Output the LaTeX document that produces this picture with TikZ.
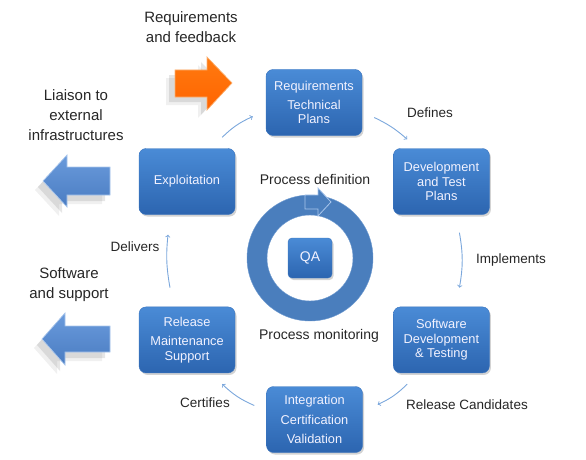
\documentclass[tikz,border=0pt]{standalone}
\usepackage{fontspec}
\setmainfont{Liberation Sans}
\usetikzlibrary{positioning,shadows}
\definecolor{BoxTop}{HTML}{4A8BD6}
\definecolor{BoxBottom}{HTML}{2C65B0}
\definecolor{BoxEdge}{HTML}{3A74BE}
\definecolor{RingBlue}{HTML}{4A7EBD}
\definecolor{RingEdge}{HTML}{6E9AD0}
\definecolor{ArrowTop}{HTML}{6A9BDC}
\definecolor{ArrowBottom}{HTML}{4A7CC2}
\definecolor{ArrowEdge}{HTML}{A9C6EC}
\definecolor{OrangeTop}{HTML}{FF7A10}
\definecolor{OrangeBottom}{HTML}{FF6400}
\definecolor{OrangeEdge}{HTML}{FBB070}
\definecolor{LinkBlue}{HTML}{7BA7DC}
\tikzstyle{ProcessBox}=[rectangle, rounded corners=7pt, draw=BoxEdge, top color=BoxTop, bottom color=BoxBottom, drop shadow={shadow xshift=1.5pt, shadow yshift=-2pt, opacity=0.35}, minimum width=96pt, minimum height=66pt, text=white!95!blue, align=center, font=\fontsize{12.8}{14.5}\selectfont]
\tikzstyle{QABox}=[ProcessBox, rounded corners=4pt, minimum width=44pt, minimum height=40pt, font=\fontsize{14}{16}\selectfont]
\tikzstyle{BigLabel}=[align=center, text=black!85, font=\fontsize{15}{20}\selectfont]
\tikzstyle{SmallLabel}=[text=black!85, font=\fontsize{13.5}{16}\selectfont]
\tikzstyle{Link}=[->, draw=LinkBlue, line width=0.9pt]
\tikzstyle{BlockArrow}=[draw=ArrowEdge, line width=0.7pt, top color=ArrowTop, bottom color=ArrowBottom, drop shadow={shadow xshift=-8pt, shadow yshift=-9pt, opacity=0.12}, drop shadow={shadow xshift=-5pt, shadow yshift=-6pt, opacity=0.2}]
\tikzstyle{OrangeArrow}=[draw=OrangeEdge, line width=0.7pt, top color=OrangeTop, bottom color=OrangeBottom, drop shadow={shadow xshift=-9pt, shadow yshift=-8pt, opacity=0.12}, drop shadow={shadow xshift=-6pt, shadow yshift=-5pt, opacity=0.2}]

\begin{document}
\begin{tikzpicture}[x=1pt, y=-1pt]
	\useasboundingbox (0,0) rectangle (586,460);

	%Nodes
	\node[ProcessBox]	(exploit)	at (187,181.5)			{Exploitation};
	\node[ProcessBox]	(req)		at (314,102.5)			{Requirements\\[4pt]Technical\\Plans};
	\node[ProcessBox]	(dev)		[right=158pt of exploit]	{Development\\and Test\\Plans};
	\node[ProcessBox]	(rel)		[below=92pt of exploit]	{Release\\[5pt]Maintenance\\Support};
	\node[ProcessBox]	(sw)		[below=92pt of dev]		{Software\\Development\\\& Testing};
	\node[ProcessBox]	(integ)		at (314.5,419.5)		{Integration\\[5pt]Certification\\[5pt]Validation};
	\node[QABox]		(qa)		at (310,258)			{QA};

	%Ring
	\fill[RingBlue, even odd rule, draw=RingEdge] (qa.center) circle[radius=63pt] (qa.center) circle[radius=43pt];
	\filldraw[fill=RingBlue, draw=ArrowEdge, line width=0.8pt] (305,195) -- (318,195) -- (318,188) -- (331,202) -- (318,216) -- (318,209) -- (305,209) -- cycle;

	%Block arrows
	\path[OrangeArrow] (232,83) -- (207,57) -- (207,70) -- (175,70) -- (175,97) -- (207,97) -- (207,110) -- cycle;
	\path[BlockArrow] (43,181) -- (67,155) -- (67,167) -- (110,167) -- (110,195) -- (67,195) -- (67,207) -- cycle;
	\path[BlockArrow] (42,339) -- (65,313) -- (65,326) -- (110,326) -- (110,352) -- (65,352) -- (65,365) -- cycle;

	%Labels
	\node[BigLabel]		(feedbackLbl)	at (191,27)		{Requirements\\and feedback};
	\node[BigLabel]		(liaisonLbl)	at (76,115)		{Liaison to\\external\\infrastructures};
	\node[BigLabel]		(supportLbl)	at (69,285)		{Software\\and support};
	\node[SmallLabel]	(definesLbl)	at (430,113)	{Defines};
	\node[SmallLabel]	(implementsLbl)	at (511,260)	{Implements};
	\node[SmallLabel]	(candidatesLbl)	at (467,405)	{Release Candidates};
	\node[SmallLabel]	(certifiesLbl)	at (205,403)	{Certifies};
	\node[SmallLabel]	(deliversLbl)	at (135,247)	{Delivers};
	\node[SmallLabel, font=\fontsize{14}{16}\selectfont]	(definitionLbl)	at (315,179)	{Process definition};
	\node[SmallLabel, font=\fontsize{14}{16}\selectfont]	(monitoringLbl)	at (319,336)	{Process monitoring};

	%Lines
	\draw[Link] ([xshift=-13pt,yshift=11pt]exploit.north east) to[bend left=10] ([xshift=-13pt,yshift=-14pt]req.west);
	\draw[Link] ([xshift=12pt,yshift=-15pt]req.east) to[bend left=8] ([xshift=14pt,yshift=9pt]dev.north west);
	\draw[Link] ([xshift=18pt,yshift=-18pt]dev.south) to[bend left=10] ([xshift=18pt,yshift=19pt]sw.north);
	\draw[Link] ([xshift=14pt,yshift=-11pt]sw.south west) to[bend left=10] ([xshift=15pt,yshift=15pt]integ.east);
	\draw[Link] ([xshift=-12pt,yshift=14pt]integ.west) to[bend left=10] ([xshift=-13pt,yshift=-11pt]rel.south east);
	\draw[Link] ([xshift=-17pt,yshift=19pt]rel.north) to[bend left=8] ([xshift=-19pt,yshift=-20pt]exploit.south);

\end{tikzpicture}
\end{document}
